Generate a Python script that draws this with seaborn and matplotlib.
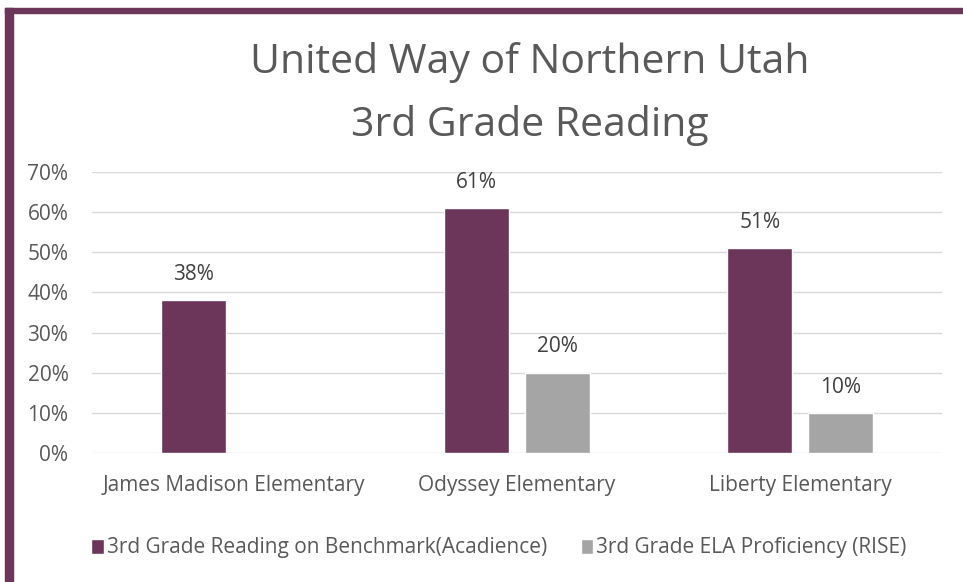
import matplotlib
matplotlib.use("Agg")
import matplotlib.pyplot as plt
import numpy as np
import pandas as pd
import seaborn as sns
from matplotlib.patches import Rectangle

schools = ["James Madison Elementary", "Odyssey Elementary", "Liberty Elementary"]
series = ["3rd Grade Reading on Benchmark(Acadience)", "3rd Grade ELA Proficiency (RISE)"]
acadience = [0.38, 0.61, 0.51]
rise = [np.nan, 0.20, 0.10]

PURPLE = "#6B3659"
GRAY = "#A5A5A5"
TEXT = "#595959"

df = pd.DataFrame({
    "school": schools * 2,
    "series": [series[0]] * 3 + [series[1]] * 3,
    "value": acadience + rise,
})

sns.set_theme(style="white")
plt.rcParams["font.family"] = ["Open Sans", "DejaVu Sans"]

fig = plt.figure(figsize=(9.63, 5.82), dpi=100)
ax = fig.add_axes([92 / 963, 1 - 453 / 582, 850 / 963, (453 - 172) / 582])

sns.barplot(data=df, x="school", y="value", hue="series", order=schools, hue_order=series,
            palette=[PURPLE, GRAY], width=0.573, gap=0.2, ax=ax, saturation=1,
            legend=True)

ax.set_ylim(0, 0.70)
ax.set_yticks(np.arange(0, 0.71, 0.1))
ax.set_yticklabels([f"{int(round(t * 100))}%" for t in np.arange(0, 0.71, 0.1)])
ax.yaxis.grid(True, color="#D9D9D9", linewidth=1)
ax.set_axisbelow(True)
for s in ax.spines.values():
    s.set_visible(False)
ax.set_xlabel("")
ax.set_ylabel("")
ax.tick_params(axis="both", colors=TEXT, labelsize=15, length=0)
ax.tick_params(axis="x", pad=16)
ax.tick_params(axis="y", pad=17)

for container in ax.containers:
    labels = ["" if np.isnan(v) else f"{int(round(v * 100))}%" for v in container.datavalues]
    ax.bar_label(container, labels=labels, padding=11, color="#404040", fontsize=15)

handles, labs = ax.get_legend_handles_labels()
ax.legend(handles, labs, loc="center", bbox_to_anchor=(499 / 963, (582 - 548) / 582),
          bbox_transform=fig.transFigure, ncol=2, frameon=False, fontsize=15, labelcolor=TEXT,
          handlelength=0.6, handleheight=0.7, handletextpad=0.15, columnspacing=1.6)

fig.text(530 / 963, 1 - 73 / 582, "United Way of Northern Utah", ha="center", va="baseline",
         fontsize=29.5, color=TEXT)
fig.text(530 / 963, 1 - 136 / 582, "3rd Grade Reading", ha="center", va="baseline",
         fontsize=29.5, color=TEXT)

# outer purple frame (top and left edges visible)
fig.patches.append(Rectangle((5 / 963, -0.1), 8 / 963, 1 - 8 / 582 + 0.1, transform=fig.transFigure,
                             color=PURPLE, zorder=5))
fig.patches.append(Rectangle((5 / 963, 1 - 13 / 582), 1, 5 / 582, transform=fig.transFigure,
                             color=PURPLE, zorder=5))

fig.savefig("out.png", dpi=100)
